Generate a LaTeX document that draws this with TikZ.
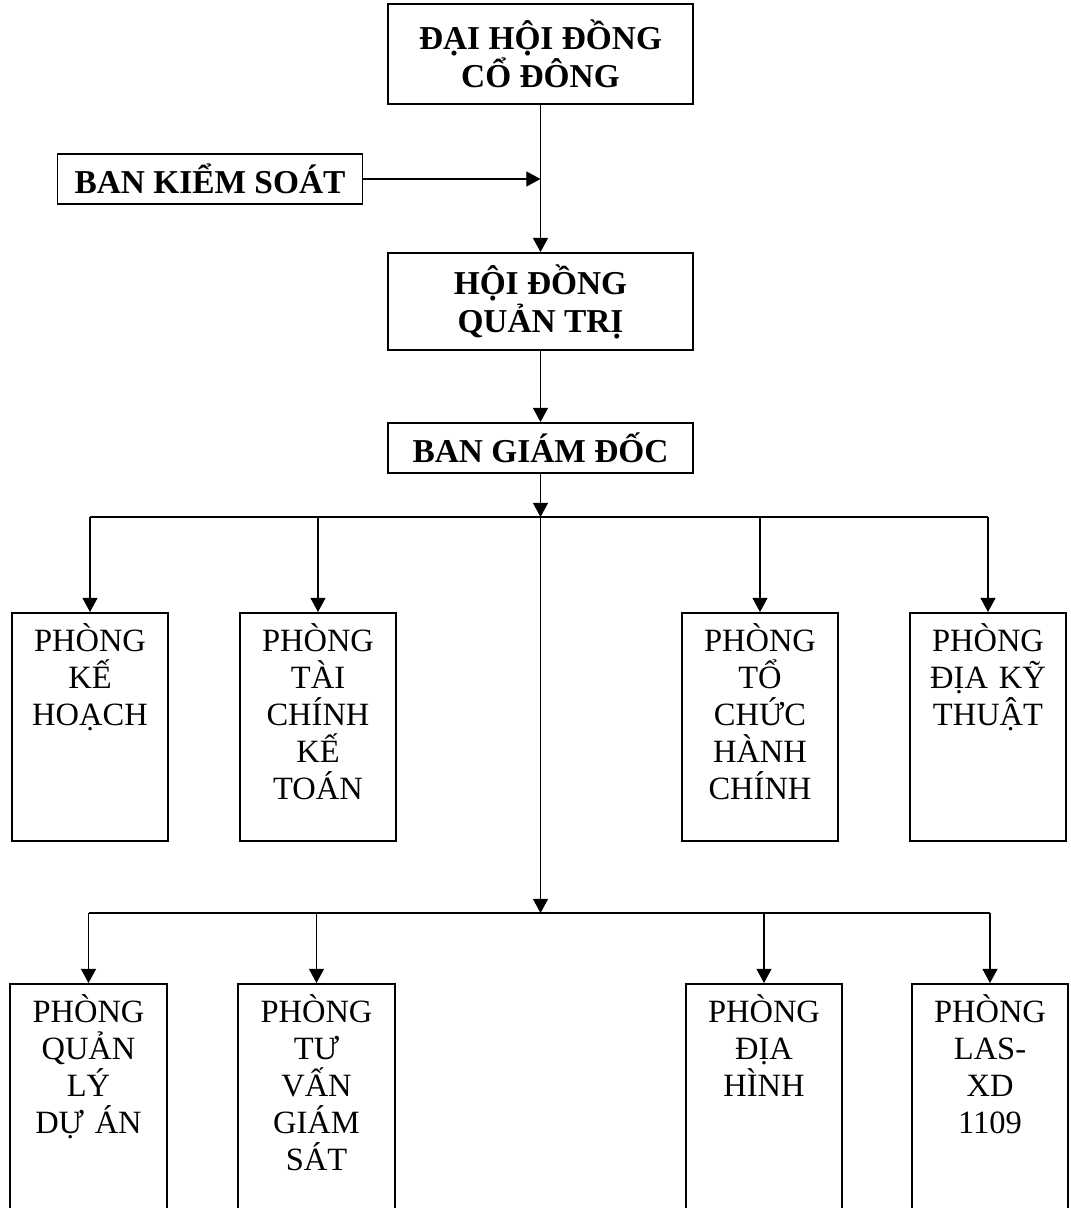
\documentclass[tikz,border=0pt]{standalone}
\usepackage{fontspec}
\setmainfont{Liberation Serif}
\usetikzlibrary{arrows.meta}
\begin{document}
\begin{tikzpicture}[
  x=0.02cm, y=-0.02cm,
  every node/.style={font=\fontsize{18.5}{21}\selectfont},
  headbox/.style={draw, line width=1.1pt, minimum width=6.1cm, align=center,
    inner sep=0pt, font=\fontsize{19}{21.6}\selectfont\bfseries},
  dept/.style={draw, line width=1.1pt, anchor=north, minimum width=3.12cm,
    text width=2.9cm, align=center, inner ysep=4pt,
    text height=18pt, text depth=104pt},
  conn/.style={line width=0.6pt, -{Triangle[length=8pt,width=8.5pt]}},
  bar/.style={line width=1.2pt}
]
  \useasboundingbox (0,0) rectangle (1071,1208);

  % Cấp lãnh đạo
  \node[headbox, minimum height=2cm]    (dhcd) at (540.5,54)  {ĐẠI HỘI ĐỒNG\\CỔ ĐÔNG};
  \node[headbox, minimum height=1cm]    (bks)  at (210,179)   {BAN KIỂM SOÁT};
  \node[headbox, minimum height=1.94cm] (hdqt) at (540.5,301.5) {HỘI ĐỒNG\\QUẢN TRỊ};
  \node[headbox, minimum height=1cm]    (bgd)  at (540.5,448) {BAN GIÁM ĐỐC};

  % Điểm nối
  \coordinate (join) at (dhcd.south |- bks.east);
  \coordinate (bar1) at (540.5,517);
  \coordinate (bar2) at (540.5,913);

  % Các phòng hàng trên
  \node[dept] (kh)   at (90,612)  {PHÒNG\\KẾ\\HOẠCH};
  \node[dept] (tckt) at (318,612) {PHÒNG\\TÀI\\CHÍNH\\KẾ\\TOÁN};
  \node[dept] (tchc) at (760,612) {PHÒNG\\TỔ\\CHỨC\\HÀNH\\CHÍNH};
  \node[dept] (dkt)  at (988,612) {PHÒNG\\ĐỊA KỸ\\THUẬT};

  % Các phòng hàng dưới
  \node[dept] (qlda) at (88.5,983) {PHÒNG\\QUẢN\\LÝ\\DỰ ÁN};
  \node[dept] (tvgs) at (316.5,983) {PHÒNG\\TƯ\\VẤN\\GIÁM\\SÁT};
  \node[dept] (dh)   at (764,983)  {PHÒNG\\ĐỊA\\HÌNH};
  \node[dept] (las)  at (990,983)  {PHÒNG\\LAS-\\XD\\1109};

  % Mũi tên chính
  \draw[conn] (dhcd.south) -- (hdqt.north);
  \draw[conn] (bks.east) -- (join);
  \draw[conn] (hdqt.south) -- (bgd.north);
  \draw[conn] (bgd.south) -- (bar1);
  \draw[conn] (bar1) -- (bar2);

  % Thanh ngang
  \draw[bar] (kh.north |- bar1) -- (dkt.north |- bar1);
  \draw[bar] (qlda.north |- bar2) -- (las.north |- bar2);

  % Mũi tên xuống các phòng
  \draw[conn] (kh.north |- bar1) -- (kh.north);
  \draw[conn] (tckt.north |- bar1) -- (tckt.north);
  \draw[conn] (tchc.north |- bar1) -- (tchc.north);
  \draw[conn] (dkt.north |- bar1) -- (dkt.north);
  \draw[conn] (qlda.north |- bar2) -- (qlda.north);
  \draw[conn] (tvgs.north |- bar2) -- (tvgs.north);
  \draw[conn] (dh.north |- bar2) -- (dh.north);
  \draw[conn] (las.north |- bar2) -- (las.north);
\end{tikzpicture}
\end{document}
